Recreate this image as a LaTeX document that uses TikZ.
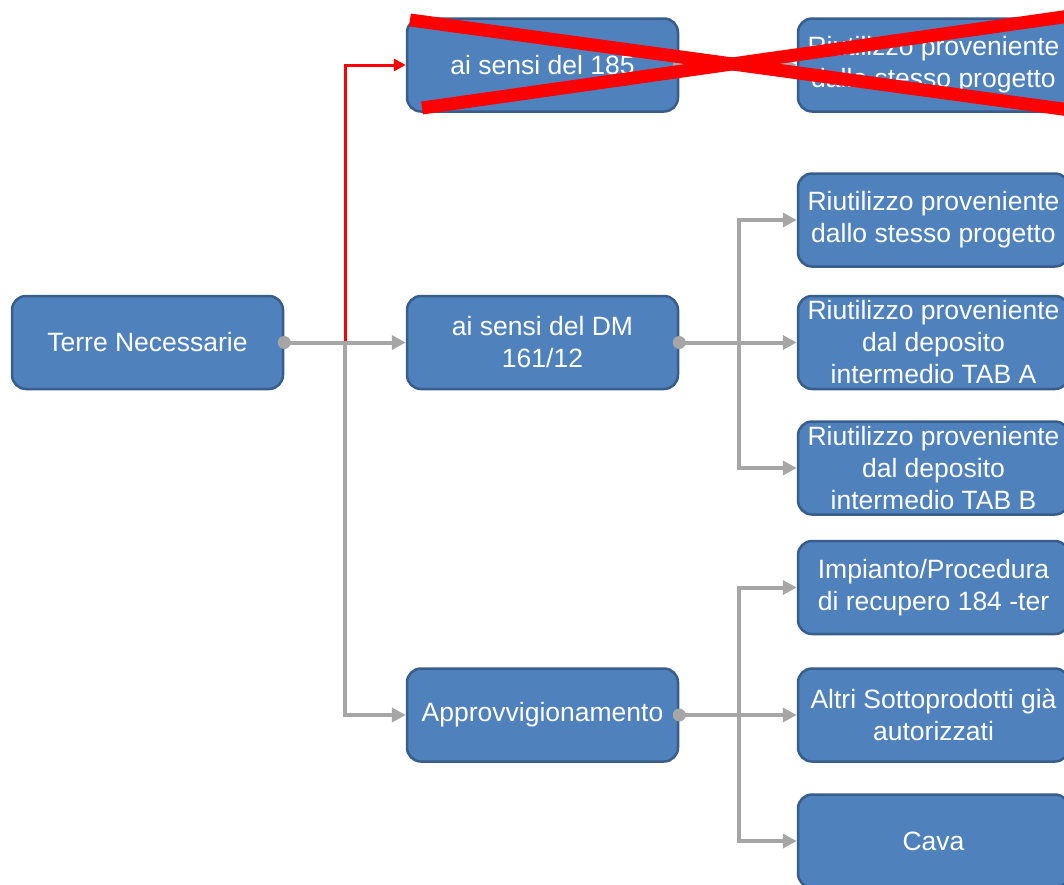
\documentclass[tikz,border=0pt]{standalone}
\usepackage{fontspec}
\setmainfont{Liberation Sans}
\usetikzlibrary{arrows.meta}
\definecolor{boxfill}{HTML}{4F81BD}
\definecolor{boxline}{HTML}{385D8A}
\definecolor{connc}{HTML}{A6A6A6}
\definecolor{xred}{HTML}{FF0000}
\begin{document}
\begin{tikzpicture}[x=1pt,y=-1pt,
  box/.style={draw=boxline, line width=2.5pt, fill=boxfill, rounded corners=14pt,
    minimum width=271pt, minimum height=93pt, text=white, align=center,
    font=\fontsize{26.5}{32}\selectfont, inner sep=0pt},
  conn/.style={draw=connc, line width=4pt, -{Triangle[length=14pt,width=14pt]}},
  redconn/.style={draw=xred, line width=3pt, -{Triangle[length=12pt,width=12pt]}},
  dot/.style={fill=connc},
  cross/.style={draw=xred, line width=13pt}]
\useasboundingbox (0,0) rectangle (1064,884);
\clip (0,0) rectangle (1064,884);
% nodes
\node[box] (tn) at (147.5,342.5) {Terre Necessarie};
\node[box] (a185) at (542.5,65) {ai sensi del 185};
\node[box] (dm) at (542.5,342.5) {ai sensi del DM\\161/12};
\node[box] (app) at (542.5,715) {Approvvigionamento};
\node[box] (r0) at (933.5,65) {Riutilizzo proveniente\\dallo stesso progetto};
\node[box] (r1) at (933.5,220) {Riutilizzo proveniente\\dallo stesso progetto};
\node[box] (r2) at (933.5,342.5) {Riutilizzo proveniente\\dal deposito\\intermedio TAB A};
\node[box] (r3) at (933.5,468) {Riutilizzo proveniente\\dal deposito\\intermedio TAB B};
\node[box] (i1) at (933.5,587.5) {Impianto/Procedura\\di recupero 184 -ter};
\node[box] (i2) at (933.5,715) {Altri Sottoprodotti già\\autorizzati};
\node[box] (i3) at (933.5,841) {Cava};
% junctions
\coordinate (j1) at (345,342.5);
\coordinate (j2) at (739,342.5);
\coordinate (j3) at (739,715);
% connectors
\draw[redconn] (tn.east) -- (j1) |- (a185.west);
\draw[conn] (tn.east) -- (dm.west);
\draw[conn] (j1) |- (app.west);
\draw[conn] (a185.east) -- (r0.west);
\draw[conn] (dm.east) -- (r2.west);
\draw[conn] (j2) |- (r1.west);
\draw[conn] (j2) |- (r3.west);
\draw[conn] (app.east) -- (i2.west);
\draw[conn] (j3) |- (i1.west);
\draw[conn] (j3) |- (i3.west);
\fill[dot] (tn.east) circle (6.5pt);
\fill[dot] (a185.east) circle (6.5pt);
\fill[dot] (dm.east) circle (6.5pt);
\fill[dot] (app.east) circle (6.5pt);
% red cross
\coordinate (xa1) at (410,20);
\coordinate (xa2) at (1070,110);
\coordinate (xb1) at (422,108);
\coordinate (xb2) at (1070,16);
\draw[cross] (xa1) -- (xa2);
\draw[cross] (xb1) -- (xb2);
\end{tikzpicture}
\end{document}
